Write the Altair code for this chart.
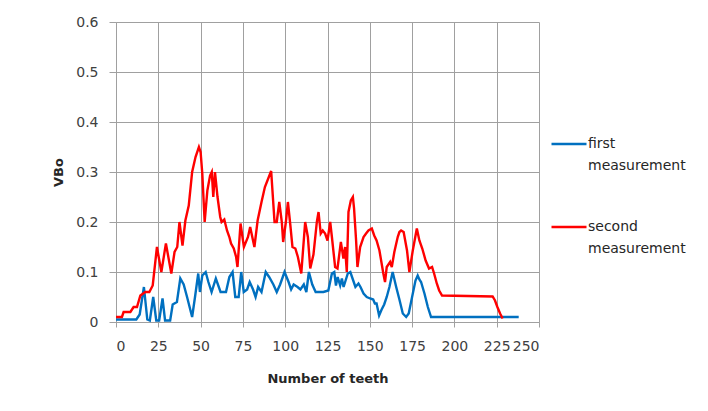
import altair as alt
import pandas as pd

# ---- data ----
first_teeth = [0, 12, 14, 16.5, 18.5, 20, 22, 23.8, 25.5, 27.5, 29, 32, 33.5, 36, 38, 40, 42, 45,
               46.7, 48.6, 49.6, 51, 53, 54.6, 56.5, 59, 61.8, 65, 67, 68.9, 70.5, 72.5, 74, 75.5,
               77.5, 79, 81, 82.5, 84, 86, 88.5, 90.5, 93, 95, 97, 99.6, 102, 103.5, 105, 107.3,
               109, 111, 112.5, 114, 116, 118, 122.6, 125.5, 127.6, 129, 130, 131, 132.5, 133.5,
               134.5, 137, 138.5, 140, 141.5, 143.3, 144.5, 146.3, 148.2, 150.2, 152, 153, 154,
               155.5, 157, 158.5, 160, 161.6, 163.5, 165.6, 167.5, 169.5, 171.5, 173, 175, 177,
               178.3, 179.3, 180.3, 182.3, 184.3, 186.2, 238]
first_vbo = [0.005, 0.005, 0.015, 0.07, 0.005, 0.003, 0.05, 0.003, 0.003, 0.047, 0.003, 0.003,
             0.035, 0.04, 0.087, 0.075, 0.05, 0.01, 0.05, 0.097, 0.06, 0.093, 0.1, 0.08, 0.06,
             0.087, 0.06, 0.06, 0.09, 0.1, 0.05, 0.05, 0.1, 0.06, 0.065, 0.08, 0.065, 0.05, 0.07,
             0.06, 0.1, 0.09, 0.075, 0.06, 0.075, 0.1, 0.08, 0.065, 0.075, 0.07, 0.065, 0.075,
             0.06, 0.1, 0.075, 0.06, 0.06, 0.063, 0.097, 0.1, 0.073, 0.09, 0.073, 0.087, 0.07,
             0.097, 0.1, 0.085, 0.07, 0.077, 0.07, 0.057, 0.05, 0.047, 0.045, 0.037, 0.037,
             0.013, 0.025, 0.035, 0.05, 0.07, 0.1, 0.07, 0.045, 0.017, 0.01, 0.017, 0.05, 0.083,
             0.093, 0.085, 0.08, 0.057, 0.03, 0.01, 0.01]

second_teeth = [0, 3.5, 4.5, 8.5, 10.4, 12.4, 14.4, 17.3, 19.7, 21.7, 24.2, 26.8, 29.5, 32.7,
                34.6, 36.2, 37.5, 39.3, 41, 43, 45, 47, 49, 50, 51, 52.4, 54, 55.6, 56.6, 57.5,
                58.5, 60, 61.6, 62.4, 64, 65.6, 67, 68, 69.6, 71, 71.8, 73.6, 75.6, 78, 79.3,
                81.8, 83.7, 86, 88, 91.7, 93.7, 95, 96.5, 98, 98.8, 100.4, 101.6, 103, 104.3,
                106, 107.5, 109.5, 111.8, 113.4, 114.8, 116.7, 118.7, 119.7, 121, 122.2, 123.6,
                125, 126.6, 127.6, 129.5, 130.9, 132.9, 134.4, 135.4, 136.4, 137.4, 138.8, 140,
                140.7, 141.9, 142.7, 144.3, 146.3, 147.8, 149.2, 151.2, 152.6, 154, 155.7, 157,
                158, 159, 160, 162, 163, 164.5, 166.5, 167.5, 168.5, 170, 172, 173.4, 175.4,
                177.8, 179.3, 181, 183, 185, 186.8, 188, 189.6, 191, 192.7, 222.6, 224, 225.4,
                227, 228.5]
second_vbo = [0.01, 0.01, 0.02, 0.02, 0.03, 0.03, 0.053, 0.06, 0.06, 0.073, 0.15, 0.1, 0.157,
              0.097, 0.14, 0.15, 0.2, 0.153, 0.203, 0.233, 0.3, 0.33, 0.35, 0.34, 0.297, 0.2,
              0.263, 0.293, 0.3, 0.25, 0.3, 0.25, 0.21, 0.2, 0.205, 0.183, 0.17, 0.157, 0.147,
              0.13, 0.11, 0.197, 0.15, 0.17, 0.19, 0.15, 0.203, 0.24, 0.27, 0.302, 0.2, 0.2,
              0.24, 0.2, 0.16, 0.2, 0.24, 0.195, 0.15, 0.147, 0.13, 0.097, 0.2, 0.17, 0.107,
              0.135, 0.2, 0.22, 0.177, 0.183, 0.177, 0.163, 0.2, 0.17, 0.11, 0.107, 0.16, 0.127,
              0.15, 0.1, 0.22, 0.243, 0.25, 0.227, 0.163, 0.11, 0.15, 0.17, 0.177, 0.183, 0.187,
              0.173, 0.163, 0.143, 0.117, 0.097, 0.08, 0.11, 0.12, 0.11, 0.14, 0.17, 0.18,
              0.183, 0.18, 0.143, 0.1, 0.143, 0.187, 0.163, 0.147, 0.123, 0.107, 0.11, 0.097,
              0.077, 0.063, 0.053, 0.051, 0.043, 0.03, 0.017, 0.007]

series_names = ["first measurement", "second measurement"]
series_colors = ["#0070C0", "#FF0000"]
x_ticks = list(range(0, 251, 25))
y_ticks = [0, 0.1, 0.2, 0.3, 0.4, 0.5, 0.6]

df = pd.concat([
    pd.DataFrame({"teeth": first_teeth, "VBo": first_vbo, "series": series_names[0], "order": range(len(first_teeth))}),
    pd.DataFrame({"teeth": second_teeth, "VBo": second_vbo, "series": series_names[1], "order": range(len(second_teeth))}),
])

FONT = "DejaVu Sans"
GRID = "#a0a0a0"

chart = alt.Chart(df).mark_line(strokeWidth=2.4, interpolate="linear").encode(
    x=alt.X("teeth:Q",
            scale=alt.Scale(domain=[0, 250], nice=False, zero=True),
            axis=alt.Axis(title="Number of teeth", values=x_ticks, format="d",
                          tickSize=5, labelPadding=12, titlePadding=19)),
    y=alt.Y("VBo:Q",
            scale=alt.Scale(domain=[0, 0.6], nice=False),
            axis=alt.Axis(title="VBo", values=y_ticks, format="~g",
                          tickSize=7, labelPadding=11, titlePadding=10)),
    color=alt.Color("series:N",
                    scale=alt.Scale(domain=series_names, range=series_colors),
                    legend=alt.Legend(title=None, orient="none", legendX=434, legendY=103,
                                      symbolType="stroke", symbolSize=1225, symbolStrokeWidth=2.5,
                                      labelExpr="split(datum.label, ' ')", labelBaseline="middle",
                                      labelFontSize=14, labelFont=FONT, labelColor="#262626",
                                      labelOffset=0, rowPadding=35, padding=0, labelLimit=200)),
    order="order:Q",
).properties(
    width=423, height=300,
    padding={"left": 108, "top": 14, "right": 160, "bottom": 75},
    autosize=alt.AutoSizeParams(type="none"),
).configure(
    style={"guide-label": {"lineHeight": 22}}
).configure_view(
    stroke=None
).configure_axis(
    gridColor=GRID, gridWidth=1, domainColor=GRID, tickColor=GRID, domainWidth=1,
    labelFont=FONT, labelFontSize=14, labelColor="#404040",
    titleFont=FONT, titleFontSize=13, titleFontWeight="bold", titleColor="#262626",
)

chart.save("out.html", embed_options={"renderer": "svg", "actions": False})
